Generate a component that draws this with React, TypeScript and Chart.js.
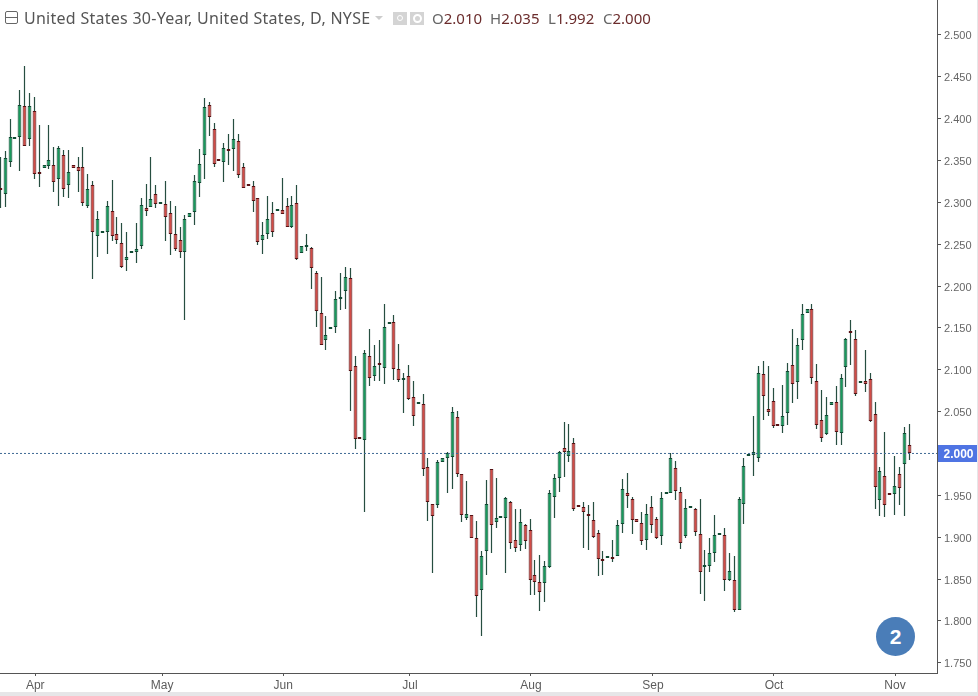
import React, { useEffect, useRef } from "react";
import { Chart, registerables } from "chart.js";

Chart.register(...registerables);

const opens = [
  2.317,2.310,2.348,2.375,2.378,2.415,2.376,2.409,2.335,2.341,
  2.343,2.344,2.328,2.356,2.321,2.344,2.342,2.342,2.295,2.321,
  2.260,2.263,2.264,2.289,2.262,2.251,2.231,2.239,2.241,2.248,
  2.293,2.294,2.310,2.298,2.298,2.287,2.262,2.255,2.241,2.282,
  2.288,2.323,2.357,2.416,2.387,2.351,2.348,2.363,2.364,2.373,
  2.342,2.321,2.320,2.305,2.255,2.262,2.287,2.289,2.291,2.295,
  2.271,2.299,2.240,2.247,2.245,2.215,2.168,2.135,2.149,2.151,
  2.184,2.194,2.210,2.105,2.020,2.016,2.117,2.092,2.108,2.102,
  2.155,2.157,2.101,2.088,2.092,2.068,2.059,2.059,1.984,1.940,
  1.939,1.990,1.994,1.996,2.043,1.975,1.923,1.927,1.899,1.837,
  1.883,1.982,1.918,1.923,1.923,1.942,1.897,1.891,1.915,1.909,
  1.855,1.846,1.845,1.864,1.948,1.971,2.007,1.997,2.013,1.938,
  1.936,1.927,1.920,1.905,1.872,1.875,1.875,1.877,1.916,1.953,
  1.946,1.922,1.917,1.897,1.936,1.922,1.901,1.952,1.953,1.983,
  1.954,1.902,1.935,1.934,1.904,1.864,1.866,1.881,1.903,1.903,
  1.849,1.849,1.813,1.940,1.997,1.998,1.995,2.095,2.053,2.063,
  2.034,2.033,2.048,2.106,2.085,2.135,2.168,2.173,2.087,2.040,
  2.023,2.058,2.061,2.024,2.103,2.145,2.137,2.084,2.086,2.089,
  2.047,1.945,1.973,1.952,1.951,1.975,1.987,2.010,
];
const highs = [
  2.354,2.361,2.400,2.378,2.434,2.463,2.430,2.426,2.392,2.344,
  2.392,2.366,2.367,2.362,2.362,2.344,2.354,2.366,2.334,2.325,
  2.289,2.266,2.302,2.327,2.283,2.275,2.264,2.241,2.275,2.305,
  2.322,2.354,2.321,2.298,2.326,2.302,2.296,2.271,2.285,2.287,
  2.332,2.364,2.424,2.420,2.395,2.351,2.371,2.382,2.400,2.382,
  2.347,2.321,2.326,2.305,2.276,2.307,2.300,2.291,2.329,2.305,
  2.308,2.321,2.248,2.262,2.247,2.218,2.211,2.164,2.151,2.194,
  2.215,2.223,2.221,2.117,2.020,2.123,2.149,2.129,2.135,2.178,
  2.157,2.165,2.131,2.096,2.106,2.086,2.059,2.071,1.995,1.940,
  1.992,1.994,2.002,2.056,2.051,1.975,1.967,1.927,1.919,1.884,
  1.968,1.982,1.971,1.924,1.948,1.943,1.934,1.934,1.916,1.922,
  1.873,1.879,1.872,1.956,1.975,2.003,2.038,2.035,2.018,1.938,
  1.942,1.938,1.942,1.908,1.883,1.877,1.897,1.920,1.970,1.977,
  1.948,1.922,1.930,1.940,1.949,1.924,1.954,1.953,2.000,1.991,
  1.960,1.946,1.935,1.935,1.946,1.885,1.899,1.926,1.903,1.911,
  1.881,1.877,1.948,1.994,1.999,2.045,2.104,2.111,2.104,2.078,
  2.034,2.082,2.108,2.149,2.138,2.178,2.173,2.178,2.107,2.076,
  2.068,2.061,2.080,2.095,2.138,2.160,2.147,2.086,2.123,2.096,
  2.062,1.984,2.026,1.952,1.997,1.984,2.032,2.035,
];
const lows = [
  2.293,2.294,2.342,2.375,2.337,2.367,2.367,2.328,2.318,2.341,
  2.340,2.312,2.295,2.306,2.305,2.341,2.312,2.295,2.293,2.208,
  2.235,2.263,2.238,2.254,2.250,2.221,2.218,2.239,2.227,2.244,
  2.284,2.294,2.293,2.298,2.254,2.237,2.242,2.233,2.159,2.282,
  2.273,2.306,2.328,2.379,2.342,2.349,2.324,2.344,2.337,2.329,
  2.317,2.320,2.288,2.249,2.238,2.256,2.258,2.289,2.286,2.270,
  2.269,2.231,2.240,2.242,2.196,2.151,2.129,2.124,2.149,2.144,
  2.171,2.172,2.051,2.005,2.017,1.930,2.081,2.086,2.086,2.083,
  2.155,2.088,2.085,2.048,2.064,2.033,2.059,1.973,1.919,1.857,
  1.935,1.990,1.953,1.958,1.972,1.918,1.921,1.899,1.805,1.782,
  1.855,1.881,1.911,1.923,1.857,1.886,1.882,1.883,1.886,1.831,
  1.831,1.812,1.823,1.863,1.923,1.954,1.972,1.990,1.931,1.936,
  1.887,1.885,1.899,1.854,1.855,1.875,1.870,1.877,1.905,1.935,
  1.904,1.918,1.891,1.885,1.905,1.898,1.891,1.952,1.953,1.945,
  1.886,1.899,1.935,1.901,1.832,1.824,1.858,1.870,1.903,1.836,
  1.848,1.811,1.813,1.916,1.997,1.973,1.990,2.040,2.045,2.031,
  2.033,2.025,2.034,2.060,2.065,2.123,2.168,2.083,2.029,2.014,
  2.022,2.058,2.010,2.010,2.079,2.106,2.069,2.084,2.073,2.038,
  1.934,1.925,1.924,1.950,1.926,1.938,1.925,1.992,
];
const closes = [
  2.315,2.353,2.378,2.377,2.416,2.367,2.415,2.334,2.334,2.344,
  2.350,2.324,2.365,2.316,2.336,2.341,2.337,2.299,2.316,2.264,
  2.280,2.266,2.296,2.260,2.255,2.223,2.235,2.241,2.244,2.297,
  2.290,2.304,2.298,2.298,2.283,2.262,2.244,2.241,2.280,2.287,
  2.326,2.346,2.414,2.402,2.346,2.349,2.365,2.361,2.375,2.333,
  2.317,2.320,2.301,2.252,2.261,2.280,2.264,2.291,2.286,2.271,
  2.297,2.232,2.248,2.247,2.221,2.170,2.130,2.142,2.151,2.185,
  2.185,2.211,2.098,2.017,2.017,2.120,2.090,2.105,2.106,2.151,
  2.157,2.101,2.088,2.089,2.065,2.045,2.059,1.982,1.942,1.925,
  1.990,1.994,2.000,2.050,1.975,1.927,1.928,1.899,1.830,1.878,
  1.940,1.914,1.923,1.924,1.947,1.893,1.887,1.918,1.896,1.849,
  1.846,1.835,1.865,1.953,1.971,2.002,2.002,2.003,1.934,1.936,
  1.930,1.925,1.900,1.874,1.871,1.877,1.874,1.915,1.957,1.949,
  1.921,1.918,1.896,1.928,1.915,1.899,1.947,1.953,1.994,1.955,
  1.893,1.935,1.935,1.906,1.859,1.865,1.881,1.903,1.903,1.849,
  1.860,1.813,1.946,1.985,1.999,2.002,2.096,2.069,2.049,2.033,
  2.033,2.045,2.099,2.083,2.129,2.166,2.173,2.090,2.034,2.019,
  2.046,2.061,2.026,2.090,2.137,2.144,2.071,2.086,2.083,2.039,
  1.960,1.979,1.939,1.950,1.961,1.959,2.025,2.000,
];

const monthLabels = ["Apr", "May", "Jun", "Jul", "Aug", "Sep", "Oct", "Nov"];
const monthTickBars = [7.2, 33.3, 58.2, 84.3, 109.2, 134.3, 159.2, 184.1];
const priceTitle = "United States 30-Year, United States, D, NYSE";
const ohlcLegend = [
  ["O", "2.010"],
  ["H", "2.035"],
  ["L", "1.992"],
  ["C", "2.000"],
];
const lastClose = 2.0;

const WICK = "#264e40";
const UP_FILL = "#189a5c";
const UP_EDGE = "#114a33";
const DOWN_FILL = "#d24c47";
const DOWN_EDGE = "#571214";
const AXIS = "#555555";
const TICK_TEXT = "#666666";
const TAG = "#4f74e3";
const FONT = "'Liberation Sans', Arial, sans-serif";
const HEAD_FONT = "'Noto Sans', sans-serif";

const xMin = -0.06;
const xMax = 192.74;
const yMin = 1.7378;
const yMax = 2.5416;

const pixelSnap = {
  id: "pixelSnap",
  beforeDatasetsDraw(chart: any) {
    chart.getSortedVisibleDatasetMetas().forEach((meta: any) => {
      if (meta.type !== "bar") return;
      meta.data.forEach((el: any) => {
        el.x = Math.floor(el.x) + 0.5;
        el.y = Math.round(el.y);
        el.base = Math.round(el.base);
      });
    });
  },
};

const priceTag = {
  id: "priceTag",
  afterDraw(chart: any) {
    const { ctx, scales } = chart;
    const y = scales.y.getPixelForValue(lastClose);
    const left = chart.chartArea.right + 1;
    ctx.save();
    ctx.fillStyle = TAG;
    ctx.fillRect(left, Math.floor(y) - 8, 39, 17);
    ctx.fillStyle = "#ffffff";
    ctx.font = `bold 12px ${FONT}`;
    ctx.textBaseline = "middle";
    ctx.textAlign = "left";
    ctx.fillText(lastClose.toFixed(3), left + 5.5, y + 1);
    ctx.restore();
  },
};

export default function App() {
  const ref = useRef<HTMLCanvasElement | null>(null);

  useEffect(() => {
    document.body.style.margin = "0";
    const isUp = (i: number) => closes[i] >= opens[i];
    const chart = new Chart(ref.current as HTMLCanvasElement, {
      type: "bar",
      data: {
        datasets: [
          {
            type: "line",
            order: 1,
            data: [
              { x: xMin, y: lastClose },
              { x: xMax, y: lastClose },
            ],
            borderColor: "#3f6a94",
            borderWidth: 1,
            borderDash: [2, 2],
            pointRadius: 0,
          },
          {
            order: 2,
            grouped: false,
            data: opens.map((o, i) => ({ x: i, y: [Math.min(o, closes[i]), Math.max(o, closes[i])] })),
            backgroundColor: opens.map((_, i) => (isUp(i) ? UP_FILL : DOWN_FILL)),
            borderColor: opens.map((_, i) => (isUp(i) ? UP_EDGE : DOWN_EDGE)),
            borderWidth: 1,
            borderSkipped: false,
            inflateAmount: 0,
            barPercentage: 1,
            categoryPercentage: 1,
            maxBarThickness: 3.8,
            minBarLength: 2,
          },
          {
            order: 3,
            grouped: false,
            data: lows.map((l, i) => ({ x: i, y: [l, highs[i]] })),
            backgroundColor: WICK,
            borderWidth: 0,
            inflateAmount: 0,
            barPercentage: 1,
            categoryPercentage: 1,
            maxBarThickness: 1.2,
          },
        ] as any,
      },
      options: {
        animation: false,
        responsive: false,
        devicePixelRatio: 1,
        events: [],
        layout: { padding: 0 },
        plugins: { legend: { display: false }, tooltip: { enabled: false }, title: { display: false } },
        scales: {
          x: {
            type: "linear",
            offset: false,
            min: xMin,
            max: xMax,
            afterBuildTicks: (axis: any) => {
              axis.ticks = monthTickBars.map((v) => ({ value: v }));
            },
            afterFit: (s: any) => {
              s.height = 19;
              s.paddingLeft = 0;
              s.paddingRight = 0;
            },
            border: { color: AXIS, width: 1 },
            grid: { offset: false, drawOnChartArea: false, drawTicks: true, tickLength: 3, color: AXIS },
            ticks: {
              autoSkip: false,
              maxRotation: 0,
              padding: 2,
              color: "#5c5c5c",
              font: { family: FONT, size: 12 },
              callback: (v: any) => monthLabels[monthTickBars.indexOf(Number(v))] ?? "",
            },
          },
          y: {
            type: "linear",
            position: "right",
            min: yMin,
            max: yMax,
            afterFit: (s: any) => {
              s.width = 40;
              s.paddingTop = 0;
              s.paddingBottom = 0;
            },
            border: { color: AXIS, width: 1 },
            grid: { drawOnChartArea: false, drawTicks: true, tickLength: 4, color: AXIS },
            ticks: {
              stepSize: 0.05,
              includeBounds: false,
              padding: 3,
              labelOffset: 1.5,
              color: TICK_TEXT,
              font: { family: FONT, size: 11 },
              callback: (v: any) => Number(v).toFixed(3),
            },
          },
        },
      } as any,
      plugins: [pixelSnap, priceTag],
    });
    return () => chart.destroy();
  }, []);

  const head: React.CSSProperties = {
    position: "absolute",
    top: 8,
    fontFamily: HEAD_FONT,
    fontSize: 15,
    lineHeight: "20px",
    whiteSpace: "nowrap",
  };
  const ohlcX = [432, 490, 548, 603];

  return (
    <div style={{ position: "absolute", left: 0, top: 0, width: 978, height: 696, background: "#e6e6e8", overflow: "hidden" }}>
      <canvas ref={ref} width={977} height={692} style={{ position: "absolute", left: 0, top: 0, background: "#fff", display: "block" }} />
      <div style={{ position: "absolute", left: 5, top: 11, width: 11, height: 11, border: "1px solid #666", borderRadius: 2 }}>
        <div style={{ position: "absolute", left: 0, right: 0, top: 5, height: 1, background: "#666" }} />
      </div>
      <div style={{ ...head, left: 24, color: "#555", fontSize: 16, letterSpacing: 0.27 }}>{priceTitle}</div>
      <div style={{ position: "absolute", left: 375, top: 16, width: 0, height: 0, borderLeft: "4px solid transparent", borderRight: "4px solid transparent", borderTop: "4px solid #ccc" }} />
      <div style={{ position: "absolute", left: 393, top: 12, width: 14, height: 13, background: "#d4d4d4" }}>
        <div style={{ position: "absolute", left: 4, top: 3, width: 4, height: 4, border: "1px solid #fff", borderRadius: "50%" }} />
      </div>
      <div style={{ position: "absolute", left: 410, top: 12, width: 14, height: 13, background: "#d4d4d4" }}>
        <div style={{ position: "absolute", left: 3, top: 2, width: 5, height: 5, border: "2px solid #fff", borderRadius: "50%" }} />
      </div>
      {ohlcLegend.map(([k, v], i) => (
        <div key={k} style={{ ...head, left: ohlcX[i], color: "#666" }}>
          {k}
          <span style={{ color: "#6b2c2c" }}>{v}</span>
        </div>
      ))}
      <div
        style={{
          position: "absolute",
          left: 876,
          top: 617,
          width: 39,
          height: 39,
          borderRadius: "50%",
          background: "#4a7db8",
          color: "#fff",
          fontFamily: FONT,
          fontWeight: "bold",
          fontSize: 21,
          lineHeight: "39px",
          textAlign: "center",
        }}
      >
        2
      </div>
    </div>
  );
}
